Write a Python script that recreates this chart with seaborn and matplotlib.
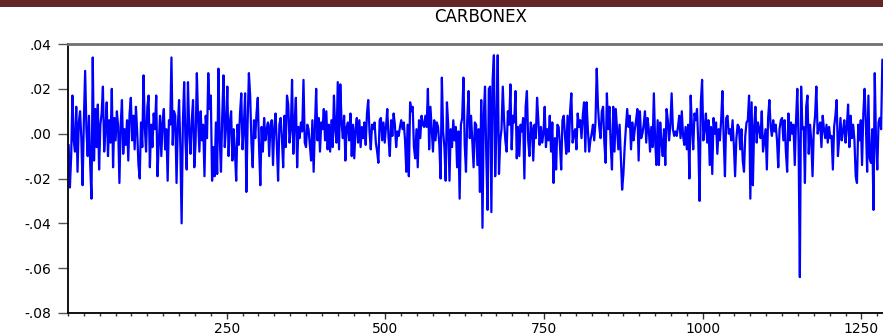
"""
CARBONEX daily returns, redrawn with seaborn.
"""

import numpy as np
import matplotlib
matplotlib.use("Agg")
import matplotlib.pyplot as plt
import seaborn as sns
from matplotlib.patches import Rectangle
from matplotlib.ticker import FuncFormatter, MultipleLocator

returns_milli = [
    -5, -24, -10, 17, -3, -8, 12, -17, 5, 10, -2, -23, 6, 28, 2, -10, 8, -14, -29, 34,
    -12, 11, -6, 13, -16, 4, 9, 21, -8, 2, 14, -10, 6, -4, 20, -15, 7, -3, 10, 3,
    -22, 4, 15, -9, 2, -5, 6, -12, 9, 16, -3, 8, -7, 12, 1, -14, -20, 5, -6, 26,
    3, -8, 12, 17, -15, 4, -6, 9, 2, 17, -19, -4, 8, -10, 5, 11, -7, 2, -21, 6,
    4, 34, -5, 10, 8, -22, 3, 15, -6, -40, 5, 23, -3, -16, 23, 2, -9, 6, 15, -15,
    -4, 27, 6, -8, 10, -3, 4, -19, 8, -2, 27, 11, 17, -21, -6, -19, 5, -18, 29, -2,
    -17, 8, 26, -6, 3, 21, -10, 5, 10, -12, 2, -8, -21, 4, -5, 9, 18, -7, 3, 18,
    -26, 5, 27, 17, -4, -15, 6, -2, 9, 16, -6, -23, 3, -8, 7, -3, 2, 5, -10, 4,
    6, -14, 3, 9, -5, -21, 4, 7, -2, -15, 8, -6, 17, 13, -4, 2, 24, -9, 5, 16,
    -15, 3, -2, 5, 1, 24, -4, -6, 4, 2, -5, -12, 6, -17, 3, 20, -3, 7, -8, 5,
    2, 11, -3, 10, -7, 4, -8, 6, -6, 17, 2, -4, 23, -7, 22, 5, -2, 8, -12, 3,
    5, -3, 9, -10, 4, -11, 2, 7, -4, 6, -6, 3, -2, 5, -5, 9, 15, 1, -7, 4,
    2, 5, -4, -8, -13, 6, 7, -3, 5, -4, 3, 11, -2, -10, 6, -1, 9, 4, -6, 1,
    -1, 3, 6, 2, 5, -3, -17, 4, -19, 14, 10, 12, -6, -11, 2, -15, 6, -2, 8, 4,
    3, 8, 3, 20, -7, 12, 2, -8, 6, -3, 5, 3, -5, -20, 25, 1, -6, -21, 14, 4, -21,
    2, -6, 6, -3, 3, -15, 1, -29, 4, 7, 25, -5, -17, 6, 19, -2, 8, -4, -15, 5,
    4, -14, 2, -26, 15, -42, 8, 21, -10, -34, 20, 21, -35, 24, 35, -19, 3, 35, -18, -3,
    2, 21, 6, -3, -8, 10, 4, 22, -7, 8, 5, 19, -11, 3, -10, 4, 1, 7, -20, 12,
    19, -3, -10, 5, 2, -12, 4, -2, 16, 6, -5, 3, -4, 0, 12, -6, 2, -3, 8, -8,
    5, -22, -2, -16, 4, 3, -5, -16, 6, 8, -1, -9, 8, -8, 10, 18, -4, 0, 2, -7,
    9, 3, 6, -2, 8, 14, -8, 14, 2, -8, -3, 0, 4, -3, 5, 29, 12, 3, -2, 10,
    12, -4, -13, 18, 2, 12, -5, -16, 12, -8, 11, 2, -7, 4, -10, -25, -18, -6, 3, 11,
    3, 8, -7, 5, -3, 2, 6, 11, -12, 10, -2, 0, 4, 10, -4, 7, 2, -8, 3, -6,
    18, -3, -14, 6, -14, 5, -4, -10, 2, -14, 11, 6, -3, 4, 18, 2, -1, 1, -1, 3,
    8, -2, 10, -1, -5, 3, -7, 4, -20, 17, 3, -7, 9, 6, 11, -4, -30, 14, 24, -3,
    2, 9, -4, 6, -14, 3, -18, 7, 0, 5, -9, 2, -3, 6, 19, -2, -19, 7, 8, 0,
    2, -3, 6, -5, -19, -2, 4, 3, -7, 2, -12, -17, -1, 5, 6, 17, -29, 14, -23, 3, 12,
    -4, 5, 2, -2, 10, -8, -3, 2, -16, 7, 15, 3, -1, 6, 1, 4, -3, -15, 2, 6,
    7, -3, 6, -8, -17, 9, -3, 5, 0, 4, -14, 6, 20, -4, -64, 21, 2, 3, -22, 12,
    17, -9, 4, -3, -19, 2, 8, 21, 0, 3, 5, -6, 8, 2, -2, 4, -4, 3, -2, -1,
    -16, 3, 8, 15, -10, -2, 7, -3, 1, 6, -4, 3, 13, -6, 8, -2, 4, -3, -19, -22,
    4, -3, 6, -14, 9, 20, 5, -17, 17, -11, -13, 2, -34, 27, -3, -16, 5, 7, 2, 33,
]
obs_step = 2
title = "CARBONEX"
y_ticks = [-0.08, -0.06, -0.04, -0.02, 0.00, 0.02, 0.04]
x_ticks = [250, 500, 750, 1000, 1250]

ret = np.array(returns_milli) / 1000.0
obs = np.arange(len(ret)) * obs_step + 1

sns.set_theme(style="white")
plt.rcParams["font.family"] = ["DejaVu Sans"]
plt.rcParams["text.color"] = "black"
plt.rcParams["xtick.color"] = "black"
plt.rcParams["ytick.color"] = "black"

fig = plt.figure(figsize=(8.83, 3.36), dpi=100)
ax = fig.add_axes([68 / 883, 1 - 313 / 336, 1 - 68 / 883, (313 - 44) / 336])

sns.lineplot(x=obs, y=ret, ax=ax, color="#0000ff", linewidth=1.6,
             estimator=None, sort=False)

ax.set_xlim(0, 1284)
ax.set_ylim(-0.08, 0.04)
ax.set_yticks(y_ticks)
ax.yaxis.set_major_formatter(
    FuncFormatter(lambda v, _: f"{v:.2f}".replace("0.", ".", 1)))
ax.set_xticks(x_ticks)
ax.xaxis.set_minor_locator(MultipleLocator(25))
ax.set_xlabel("")
ax.set_ylabel("")

ax.tick_params(axis="y", direction="out", length=7, width=1, color="#555555",
               labelcolor="black", labelsize=10, pad=5, left=True)
ax.tick_params(axis="x", which="major", direction="out", length=4.5, width=1,
               color="#333333", labelcolor="black", labelsize=10, pad=2,
               bottom=True)
ax.tick_params(axis="x", which="minor", direction="out", length=2.2, width=1,
               color="#333333", bottom=True)

for side in ["left", "bottom"]:
    ax.spines[side].set_color("black")
    ax.spines[side].set_linewidth(1.3)
ax.spines["top"].set_color("#707070")
ax.spines["top"].set_linewidth(2)
ax.spines["right"].set_visible(False)
ax.grid(False)

# dark red band across the top
fig.add_artist(Rectangle((0, 1 - 7 / 336), 1, 7 / 336,
                         transform=fig.transFigure, color="#652425", lw=0))
fig.text(481 / 883, 1 - 17 / 336, title, ha="center", va="center",
         fontsize=12, color="black")

fig.savefig("out.png", dpi=100)
